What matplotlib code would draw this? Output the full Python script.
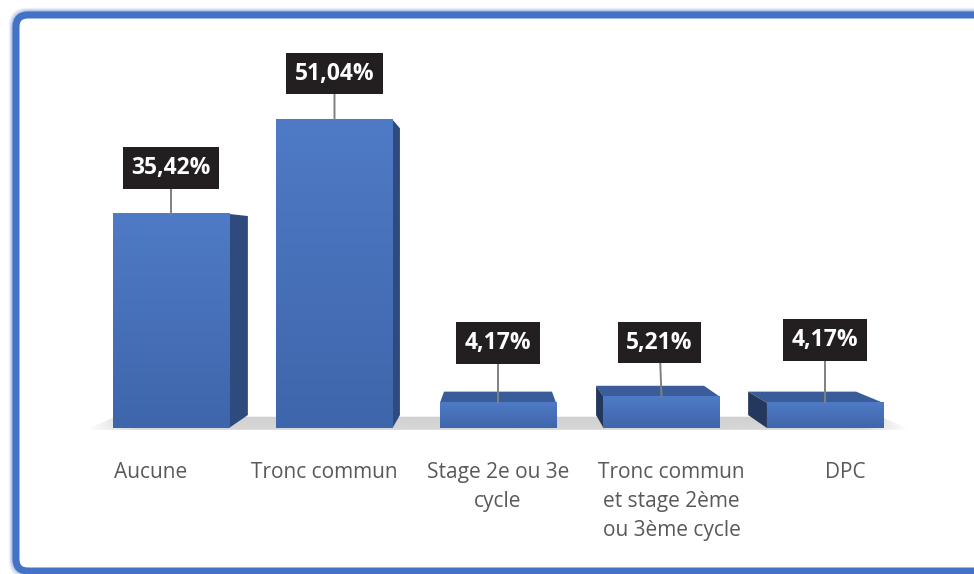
import numpy as np
import matplotlib.pyplot as plt
from matplotlib.patches import Polygon, FancyBboxPatch
from matplotlib.colors import to_rgb

# data
categories = ['Aucune', 'Tronc commun', 'Stage 2e ou 3e\ncycle',
              'Tronc commun\net stage 2ème\nou 3ème cycle', 'DPC']
values = [35.42, 51.04, 4.17, 5.21, 4.17]
value_labels = ['35,42%', '51,04%', '4,17%', '5,21%', '4,17%']

# label box offsets (pixels) from the top of each bar
label_offsets = [(0, 46), (0, 46), (0, 60), (-2, 54), (0, 63)]

# fake 3D settings
BAR_W = 0.71
VP = (2.0, 30.6)      # vanishing point (data coords)
DEPTH = 0.07          # how far the back face goes toward VP
LABEL_SPREAD = 1.061  # category labels sit on a plane nearer the viewer

FRONT_TOP = '#4F7AC5'
FRONT_BOT = '#3E66AC'
SIDE_R = '#2F4A7C'
SIDE_L = '#24375D'
TOP_C = '#3A5C99'

plt.rcParams['font.family'] = ['Open Sans', 'DejaVu Sans']

W, H = 974, 574
fig = plt.figure(figsize=(W / 100, H / 100), dpi=100)

# axes placed so that y=0 sits at pixel row 428
px_per_unit = 6.042
y_lo, y_hi = -1, 60
ax_top = 428 - y_hi * px_per_unit
ax_bot = 428 - y_lo * px_per_unit
ax = fig.add_axes([89.25 / W, (H - ax_bot) / H,
                   (906.75 - 89.25) / W, (ax_bot - ax_top) / H])


def proj(x, y):
    return (x + DEPTH * (VP[0] - x), y + DEPTH * (VP[1] - y))


def vgrad(c_bot, c_top, n=64):
    a, b = np.array(to_rgb(c_bot)), np.array(to_rgb(c_top))
    t = np.linspace(0, 1, n)[:, None]
    return (a + (b - a) * t)[:, None, :]


# floor with faded ends
fl, fr, fy = -0.52, len(values) - 0.48, -0.3
floor_pts = [(fl, fy), (fr, fy), proj(fr, fy), proj(fl, fy)]
floor = Polygon(floor_pts, closed=True, fc='none', ec='none')
ax.add_patch(floor)
xs = np.linspace(0, 1, 400)
alpha = np.clip(np.minimum(xs, 1 - xs) / 0.06, 0, 1)
ys = np.linspace(0, 1, 20)[:, None]
img = np.zeros((20, 400, 4))
img[..., :3] = to_rgb('#D0D0D0')
img[..., 3] = alpha[None, :] * (0.85 + 0.15 * ys)
im = ax.imshow(img, extent=[fl, fr, fy, proj(fr, fy)[1]], origin='lower',
               aspect='auto', zorder=1, interpolation='bilinear')
im.set_clip_path(floor)

# bars
for i, v in enumerate(values):
    x0, x1 = i - BAR_W / 2, i + BAR_W / 2
    if v < VP[1]:
        ax.add_patch(Polygon([(x0, v), (x1, v), proj(x1, v), proj(x0, v)],
                             fc=TOP_C, ec='none', zorder=2))
    if x1 < VP[0]:
        ax.add_patch(Polygon([(x1, 0), (x1, v), proj(x1, v), proj(x1, 0)],
                             fc=SIDE_R, ec='none', zorder=2))
    if x0 > VP[0]:
        ax.add_patch(Polygon([(x0, 0), (x0, v), proj(x0, v), proj(x0, 0)],
                             fc=SIDE_L, ec='none', zorder=2))
    ax.imshow(vgrad(FRONT_BOT, FRONT_TOP), extent=[x0, x1, 0, v],
              origin='lower', aspect='auto', zorder=3,
              interpolation='bilinear')

# value labels
for i, (v, lbl, off) in enumerate(zip(values, value_labels, label_offsets)):
    ax.annotate(lbl, xy=(i, v), xytext=off, textcoords='offset pixels',
                ha='center', va='center', fontsize=16.5, fontweight='bold',
                color='white', zorder=10,
                bbox=dict(boxstyle='square,pad=0.38', fc='#231F20', ec='none'),
                arrowprops=dict(arrowstyle='-', color='#808080', lw=1.4,
                                shrinkA=0, shrinkB=0))

# category labels
for i, cat in enumerate(categories):
    xl = VP[0] + (i - VP[0]) * LABEL_SPREAD
    ax.annotate(cat, xy=(xl, 0), xytext=(0, -34), textcoords='offset pixels',
                ha='center', va='top', multialignment='center',
                fontsize=15, color='#595959', linespacing=1.5,
                annotation_clip=False)

ax.set_xlim(-0.5, len(values) - 0.5)
ax.set_ylim(y_lo, y_hi)
ax.set_xticks([])
ax.set_yticks([])
for s in ax.spines.values():
    s.set_visible(False)
ax.patch.set_visible(False)

# blue frame with a soft outer glow (pixel coords -> inches)
fx0, fy0 = 16 / 100, (H - 571) / 100
fx1, fy1 = 1000 / 100, (H - 15) / 100
for k, a in [(22, 0.04), (18, 0.06), (14, 0.09), (10, 0.12)]:
    fig.add_artist(FancyBboxPatch(
        (fx0 - (k - 7) / 400, fy0 - (k - 7) / 400),
        fx1 - fx0 + (k - 7) / 200, fy1 - fy0 + (k - 7) / 200,
        boxstyle='round,pad=0,rounding_size=0.14', fc='none',
        ec='#4472C4', lw=7 * 0.72, alpha=a * 2,
        transform=fig.dpi_scale_trans))
fig.add_artist(FancyBboxPatch(
    (fx0, fy0), fx1 - fx0, fy1 - fy0,
    boxstyle='round,pad=0,rounding_size=0.12', fc='none',
    ec='#4472C4', lw=7 * 0.72, transform=fig.dpi_scale_trans))

fig.savefig('out.png', dpi=100)
